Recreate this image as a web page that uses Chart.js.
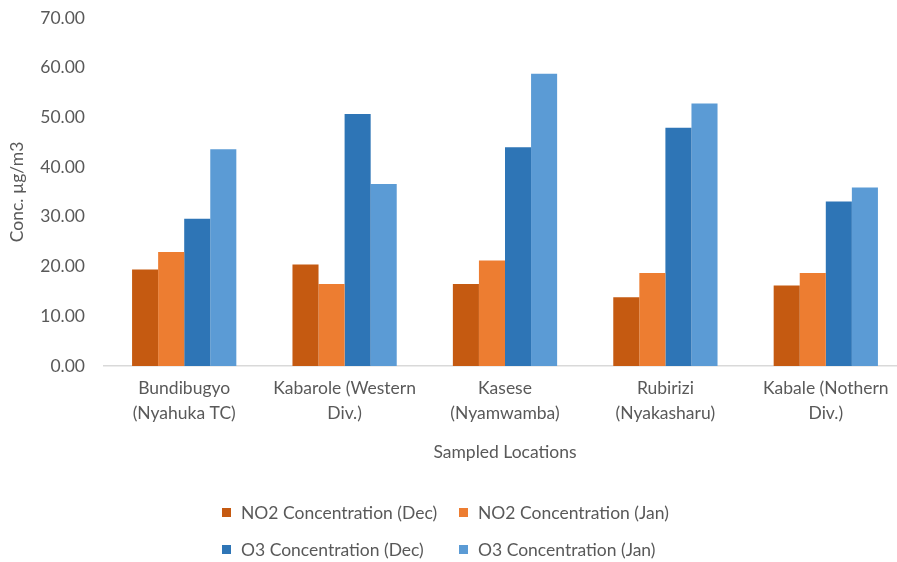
<!DOCTYPE html>
<html>
<head>
<meta charset="utf-8">
<script src="https://cdn.jsdelivr.net/npm/chart.js@4/dist/chart.umd.min.js"></script>
<style>
  html, body { margin: 0; padding: 0; background: #ffffff; overflow: hidden; }
  #wrap { position: relative; width: 897px; height: 562px; overflow: hidden; }
  #c { position: absolute; left: 0; top: 0; }
  #legend {
    position: absolute; left: 222px; top: 494px;
    display: grid; grid-template-columns: 237px 237px; grid-auto-rows: 37px;
    font-family: Lato, "Open Sans", sans-serif; font-size: 17.5px; color: #595959;
  }
  .item { display: flex; align-items: center; white-space: nowrap; }
  .box { width: 9px; height: 9px; margin-right: 10px; flex: none; }
</style>
</head>
<body>
<div id="wrap">
  <canvas id="c" width="912" height="562"></canvas>
  <div id="legend"></div>
</div>
<script>
// Sampled locations and measured concentrations (µg/m3)
const locations = [
  ["Bundibugyo", "(Nyahuka TC)"],
  ["Kabarole (Western", "Div.)"],
  ["Kasese", "(Nyamwamba)"],
  ["Rubirizi", "(Nyakasharu)"],
  ["Kabale (Nothern", "Div.)"]
];
const no2Dec = [19.4, 20.4, 16.5, 13.8, 16.2];
const no2Jan = [22.9, 16.5, 21.2, 18.7, 18.7];
const o3Dec  = [29.6, 50.7, 44.0, 47.9, 33.1];
const o3Jan  = [43.6, 36.6, 58.8, 52.8, 35.9];

const seriesNames = [
  "NO2 Concentration (Dec)",
  "NO2 Concentration (Jan)",
  "O3 Concentration (Dec)",
  "O3 Concentration (Jan)"
];
const seriesColors = ["#C55A11", "#ED7D31", "#2E75B6", "#5B9BD5"];
const seriesValues = [no2Dec, no2Jan, o3Dec, o3Jan];

const textColor = "#595959";
const fontFamily = "Lato, 'Open Sans', sans-serif";

const chart = new Chart(document.getElementById("c"), {
  type: "bar",
  data: {
    labels: locations,
    datasets: seriesValues.map((vals, i) => ({
      label: seriesNames[i],
      data: vals,
      backgroundColor: seriesColors[i],
      borderWidth: 0,
      categoryPercentage: 0.65,
      barPercentage: 1.0
    }))
  },
  options: {
    responsive: false,
    animation: false,
    layout: { padding: { top: 18, right: 6, bottom: 99, left: 0 } },
    plugins: {
      legend: { display: false },
      tooltip: { enabled: false }
    },
    scales: {
      x: {
        grid: { display: false, drawTicks: false },
        border: { display: true, color: "#d9d9d9", width: 1.5 },
        ticks: {
          color: textColor,
          font: { family: fontFamily, size: 17.5, lineHeight: 1.43 },
          padding: 10,
          maxRotation: 0,
          autoSkip: false
        },
        title: {
          display: true,
          text: "Sampled Locations",
          color: textColor,
          font: { family: fontFamily, size: 17.5, lineHeight: 1.2 },
          padding: { top: 6, bottom: 0 }
        }
      },
      y: {
        min: 0,
        max: 70,
        grid: { display: false, drawTicks: false },
        border: { display: false },
        ticks: {
          stepSize: 10,
          color: textColor,
          font: { family: fontFamily, size: 17.5 },
          padding: 19,
          callback: v => Number(v).toFixed(2)
        },
        title: {
          display: true,
          text: "Conc. µg/m3",
          color: textColor,
          font: { family: fontFamily, size: 17.5, lineHeight: 1.2 },
          padding: { top: 7, bottom: 0 }
        },
        afterFit: scale => {
          scale.width = 104;
          scale.paddingTop = 10;
          scale.paddingBottom = 10;
        }
      }
    }
  }
});

// Legend laid out as two rows of two entries
const legendEl = document.getElementById("legend");
seriesNames.forEach((name, i) => {
  const item = document.createElement("div");
  item.className = "item";
  const box = document.createElement("span");
  box.className = "box";
  box.style.background = seriesColors[i];
  const txt = document.createElement("span");
  txt.textContent = name;
  item.appendChild(box);
  item.appendChild(txt);
  legendEl.appendChild(item);
});
</script>
</body>
</html>
